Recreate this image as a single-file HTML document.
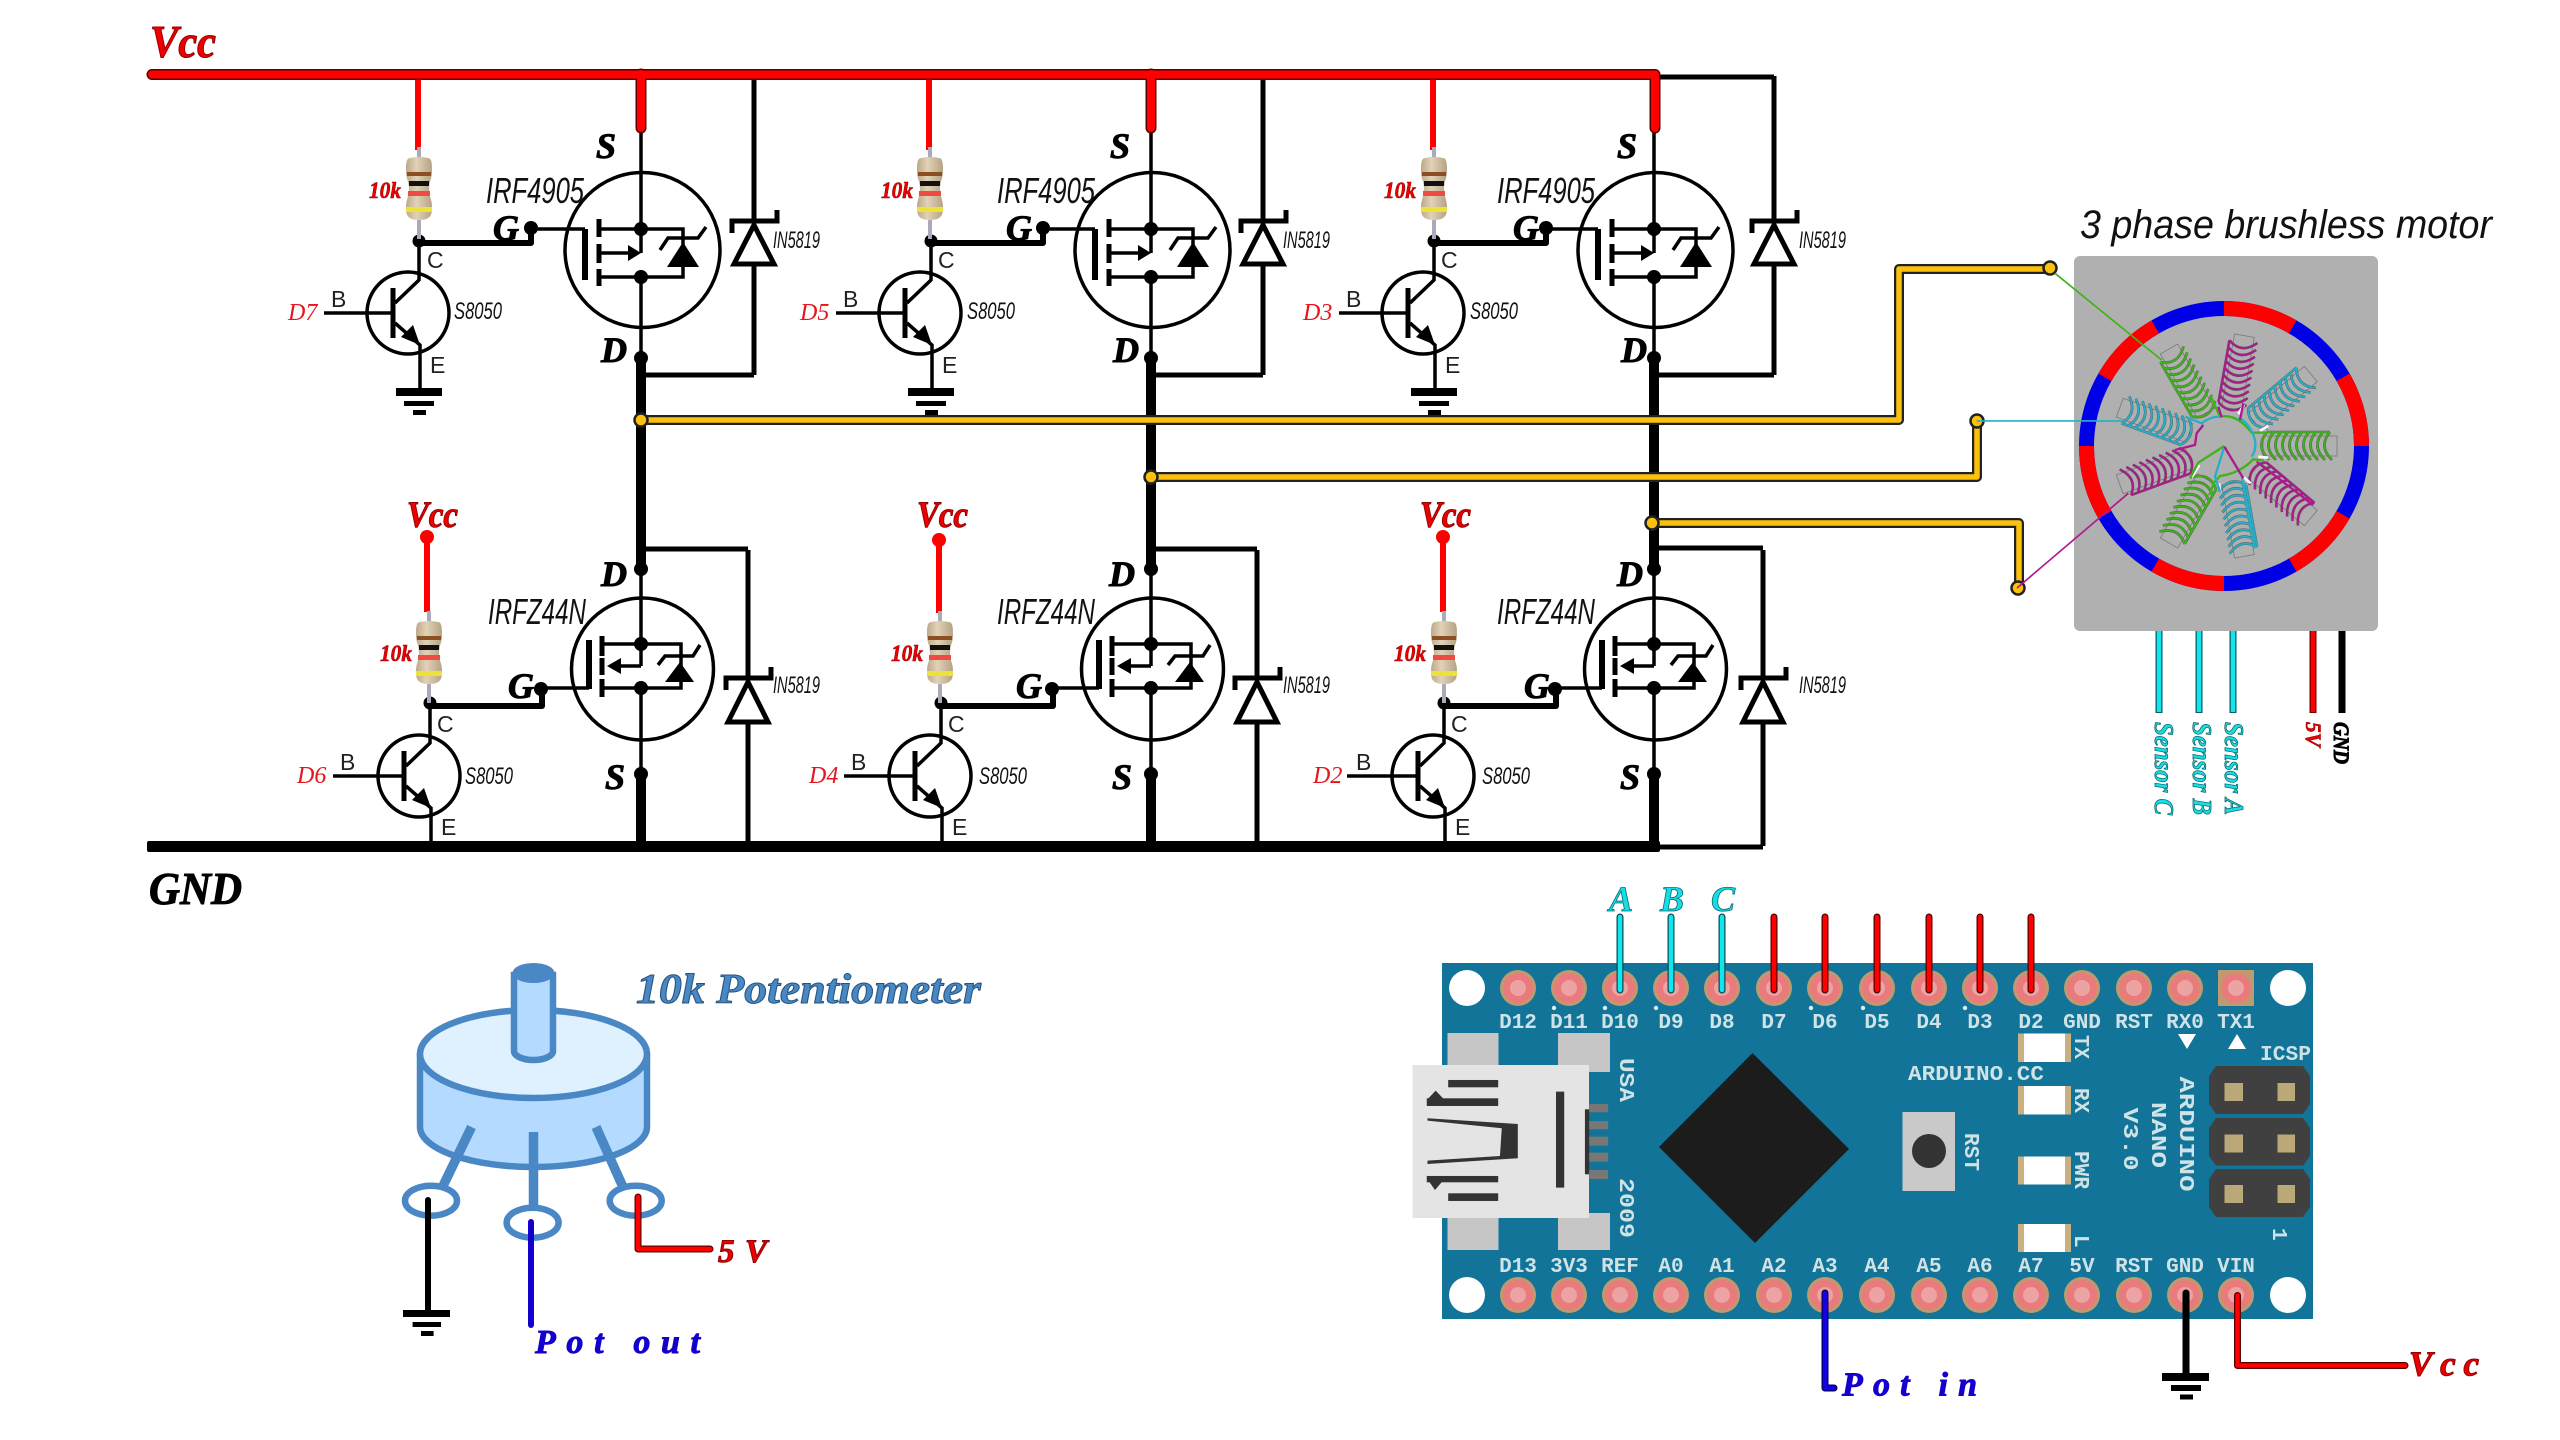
<!DOCTYPE html>
<html><head><meta charset="utf-8"><title>BLDC driver</title>
<style>
html,body{margin:0;padding:0;background:#fff}
svg{display:block}
.bi{font-family:"Liberation Serif",serif;font-style:italic;font-weight:bold}
.th{font-family:"Liberation Sans",sans-serif;font-style:italic;fill:#111}
.cb{font-family:"Liberation Sans",sans-serif;font-size:23px;fill:#222}
.m{font-family:"Liberation Mono",monospace;font-weight:bold;font-size:21px;fill:#cfe3e6;text-anchor:middle}
.mr{font-family:"Liberation Mono",monospace;font-weight:bold;font-size:21px;fill:#cfe3e6}
.r{fill:#e00;stroke:#900;stroke-width:1.1}
.r6{stroke-width:.6}
.dr{font-family:"Liberation Serif",serif;font-style:italic;font-size:24px;fill:#e8141c}
.k{fill:#000;stroke:#000;stroke-width:1}
.cy{fill:#14dfe8;stroke:#0a6a70;stroke-width:.8}
.bl{fill:#1400cc;stroke:#1400cc;stroke-width:.9}
</style></head><body>
<svg width="2560" height="1440" viewBox="0 0 2560 1440" xmlns="http://www.w3.org/2000/svg">
<defs>
<linearGradient id="bg" x1="0" x2="1" y1="0" y2="0"><stop offset="0" stop-color="#bda98a"/><stop offset=".4" stop-color="#e2d2b6"/><stop offset="1" stop-color="#b5a283"/></linearGradient>
<g id="res">
<path d="M0,-31V-42M0,31V50" stroke="#aab" stroke-width="4" fill="none"/>
<path d="M-9,-31C-13,-31 -13,-24 -13,-18C-13,-10 -10,-8 -10,0C-10,8 -13,10 -13,18C-13,24 -13,31 0,31C13,31 13,24 13,18C13,10 10,8 10,0C10,-8 13,-10 13,-18C13,-24 13,-31 9,-31Q0,-33 -9,-31Z" fill="url(#bg)"/>
<rect x="-12" y="-17" width="24" height="4" fill="#8a4f22"/>
<rect x="-10" y="-8" width="20" height="5" fill="#111"/>
<rect x="-11" y="2" width="22" height="5" fill="#ef4a44"/>
<rect x="-13" y="18" width="26" height="5" fill="#ece33a"/>
</g>
<g id="npnU" fill="none" stroke="#000">
<circle cx="-11" cy="72" r="41" stroke-width="3.5" fill="none"/>
<path d="M0,0V39L-24,62M-24,82L1,104V147" stroke-width="3.5"/>
<path d="M-26,47V97" stroke-width="5"/>
<path d="M0,2H112V-13" stroke-width="6" stroke-linejoin="round"/>
<circle cx="0" cy="0" r="6.5" fill="#000" stroke="none"/>
<circle cx="112" cy="-13" r="7" fill="#000" stroke="none"/>
<polygon points="1,104 -18,96 -6,84" fill="#000" stroke="none"/>
<path d="M-26,72H-95" stroke-width="3.5"/>
<rect x="-23" y="147" width="46" height="8" fill="#000" stroke="none"/>
<rect x="-15" y="160" width="30" height="5" fill="#000" stroke="none"/>
<rect x="-6" y="169" width="13" height="5" fill="#000" stroke="none"/>
</g>
<g id="npnL" fill="none" stroke="#000">
<circle cx="-11" cy="73" r="41" stroke-width="3.5" fill="none"/>
<path d="M0,0V40L-24,63M-24,83L1,105V143" stroke-width="3.5"/>
<path d="M-26,48V98" stroke-width="5"/>
<path d="M0,3H112V-14" stroke-width="6" stroke-linejoin="round"/>
<circle cx="0" cy="0" r="6.5" fill="#000" stroke="none"/>
<circle cx="111" cy="-14" r="7" fill="#000" stroke="none"/>
<polygon points="1,105 -18,97 -6,85" fill="#000" stroke="none"/>
<path d="M-26,73H-97" stroke-width="3.5"/>
</g>
<g id="pmos" fill="none" stroke="#000">
<circle cx="1.5" cy="250" r="77.5" stroke-width="3.5"/>
<path d="M0,132V253M0,277V358" stroke-width="3.5"/>
<path d="M-42,219V237M-42,244V263M-42,269V286" stroke-width="5"/>
<path d="M-42,229H42V277H-42M-42,253H-10" stroke-width="3.5"/>
<path d="M-56,229V280" stroke-width="6"/>
<path d="M-109,229H-56" stroke-width="3.5"/>
<path d="M19,250L27,238H57L65,227" stroke-width="3.5"/>
<g fill="#000" stroke="none">
<circle cx="0" cy="229" r="7"/><circle cx="0" cy="277" r="7"/><circle cx="0" cy="358" r="7"/>
<polygon points="-13,245 0,253 -13,261"/>
<polygon points="26,267 58,267 42,242"/>
</g>
</g>
<g id="nmos" fill="none" stroke="#000">
<circle cx="1.5" cy="669" r="71" stroke-width="3.5"/>
<path d="M0,569V644M0,666V644M0,688V774" stroke-width="3.5"/>
<path d="M-39,636V656M-39,658V675M-39,679V697" stroke-width="5"/>
<path d="M-39,644H40V688H-39M0,666H-22" stroke-width="3.5"/>
<path d="M-52,640V689" stroke-width="6"/>
<path d="M-99,688H-52" stroke-width="3.5"/>
<path d="M17,665L24,656H52L59,645" stroke-width="3.5"/>
<g fill="#000" stroke="none">
<circle cx="0" cy="569" r="7"/><circle cx="0" cy="644" r="7"/><circle cx="0" cy="688" r="7"/><circle cx="0" cy="774" r="7"/>
<polygon points="-34,666 -20,658 -20,674"/>
<polygon points="24,682 53,682 39,662"/>
</g>
</g>
<g id="du" fill="none" stroke="#000" stroke-width="5">
<path d="M0,76V223M0,264V375"/>
<polygon points="0,225 -20,264 20,264"/>
<path d="M-22,233V221H23V210"/>
</g>
<g id="dl" fill="none" stroke="#000" stroke-width="5">
<path d="M0,550V680M0,722V846"/>
<polygon points="0,682 -20,722 20,722"/>
<path d="M-22,690V678H23V667"/>
</g>
<g id="pin"><circle r="18" fill="#bf9a6e"/><circle r="15" fill="#ea7b7c"/><circle r="8" fill="#eba3a4"/></g>
<g id="coil" fill="none">
<rect x="-10" y="-112" width="20" height="74" stroke="#777" stroke-width=".8"/>
<path d="M-14,-42V-105M-14,-42Q0,-30 14,-44M-14,-49Q0,-37 14,-51M-14,-56Q0,-44 14,-58M-14,-63Q0,-51 14,-65M-14,-70Q0,-58 14,-72M-14,-77Q0,-65 14,-79M-14,-84Q0,-72 14,-86M-14,-91Q0,-79 14,-93M-14,-98Q0,-86 14,-100M-14,-105Q0,-93 14,-107" stroke="#555" stroke-width="2.6"/>
<path d="M-14,-42V-105M-14,-42Q0,-30 14,-44M-14,-49Q0,-37 14,-51M-14,-56Q0,-44 14,-58M-14,-63Q0,-51 14,-65M-14,-70Q0,-58 14,-72M-14,-77Q0,-65 14,-79M-14,-84Q0,-72 14,-86M-14,-91Q0,-79 14,-93M-14,-98Q0,-86 14,-100M-14,-105Q0,-93 14,-107" stroke="currentColor" stroke-width="1.8"/>
</g>
</defs>

<!-- thick stems -->
<g stroke="#000" stroke-width="10" fill="none">
<path d="M641,358V569M641,774V846M1151,358V569M1151,774V846M1654,358V569M1654,774V846"/>
</g>
<!-- GND rail -->
<rect x="147" y="841" width="1513" height="11" rx="2" fill="#000"/>
<path d="M1654,847H1763M641,375H754M1151,375H1263M1654,375H1774M641,549H748M1151,549H1257M1654,548H1763M1654,77H1774" stroke="#000" stroke-width="5" fill="none"/>

<use href="#du" x="754"/><use href="#du" x="1263"/><use href="#du" x="1774"/>
<use href="#dl" x="748"/><use href="#dl" x="1257"/><use href="#dl" x="1763"/>
<use href="#pmos" x="641"/><use href="#pmos" x="1151"/><use href="#pmos" x="1654"/>
<use href="#nmos" x="641"/><use href="#nmos" x="1151"/><use href="#nmos" x="1654"/>
<use href="#npnU" x="419" y="241"/><use href="#npnU" x="931" y="241"/><use href="#npnU" x="1434" y="241"/>
<use href="#npnL" x="430" y="703"/><use href="#npnL" x="941" y="703"/><use href="#npnL" x="1444" y="703"/>

<!-- resistors + red -->
<g stroke="#f00" stroke-width="6" fill="none">
<path d="M418,74V150M929,74V150M1433,74V150M427,537V612M939,540V613M1443,537V612"/>
</g>
<g fill="#f00"><circle cx="427" cy="537" r="7"/><circle cx="939" cy="540" r="7"/><circle cx="1443" cy="537" r="7"/></g>
<use href="#res" x="419" y="189"/><use href="#res" x="930" y="189"/><use href="#res" x="1434" y="189"/>
<use href="#res" x="429" y="653"/><use href="#res" x="940" y="653"/><use href="#res" x="1444" y="653"/>

<!-- Vcc rail -->
<path d="M152,74.5H1655V128M641,74V128M1151,74V128" fill="none" stroke="#5a0000" stroke-width="11" stroke-linejoin="round" stroke-linecap="round"/>
<path d="M152,74.5H1655V128M641,74V128M1151,74V128" fill="none" stroke="#f00" stroke-width="8" stroke-linejoin="round" stroke-linecap="round"/>

<!-- Yellow wires -->
<g fill="none" stroke-linejoin="round" stroke-linecap="round">
<path d="M641,420H1899V269H2050M1151,477H1977V421M1654,523H2019V588" stroke="#222" stroke-width="10"/>
<path d="M641,420H1899V269H2050M1151,477H1977V421M1654,523H2019V588" stroke="#fcc10c" stroke-width="5.5"/>
</g>
<g fill="#fcc10c" stroke="#222" stroke-width="2.5">
<circle cx="641" cy="420" r="6.5"/><circle cx="1151" cy="477" r="6.5"/><circle cx="1652" cy="523" r="6.5"/>
<circle cx="2050" cy="268" r="6.5"/><circle cx="1977" cy="421" r="6.5"/><circle cx="2018" cy="588" r="6.5"/>
</g>

<!-- Labels schematics -->
<text class="bi r" x="150" y="57" font-size="46" textLength="66" lengthAdjust="spacingAndGlyphs">Vcc</text>
<text class="bi k" x="149" y="904" font-size="46" textLength="93" lengthAdjust="spacingAndGlyphs">GND</text>
<g class="bi r" font-size="37">
<text x="407" y="527" textLength="51" lengthAdjust="spacingAndGlyphs">Vcc</text>
<text x="917" y="527" textLength="51" lengthAdjust="spacingAndGlyphs">Vcc</text>
<text x="1420" y="527" textLength="51" lengthAdjust="spacingAndGlyphs">Vcc</text>
</g>
<g class="bi r r6" font-size="23">
<text x="369" y="198" textLength="32" lengthAdjust="spacingAndGlyphs">10k</text>
<text x="881" y="198" textLength="32" lengthAdjust="spacingAndGlyphs">10k</text>
<text x="1384" y="198" textLength="32" lengthAdjust="spacingAndGlyphs">10k</text>
<text x="380" y="661" textLength="32" lengthAdjust="spacingAndGlyphs">10k</text>
<text x="891" y="661" textLength="32" lengthAdjust="spacingAndGlyphs">10k</text>
<text x="1394" y="661" textLength="32" lengthAdjust="spacingAndGlyphs">10k</text>
</g>
<g class="bi k" font-size="36">
<text x="596" y="158">S</text><text x="1110" y="158">S</text><text x="1617" y="158">S</text>
<text x="601" y="362">D</text><text x="1113" y="362">D</text><text x="1621" y="362">D</text>
<text x="493" y="240">G</text><text x="1006" y="240">G</text><text x="1513" y="240">G</text>
<text x="601" y="586">D</text><text x="1109" y="586">D</text><text x="1617" y="586">D</text>
<text x="605" y="789">S</text><text x="1112" y="789">S</text><text x="1620" y="789">S</text>
<text x="508" y="698">G</text><text x="1016" y="698">G</text><text x="1524" y="698">G</text>
</g>
<g class="th" font-size="36">
<text x="486" y="203" textLength="98" lengthAdjust="spacingAndGlyphs">IRF4905</text>
<text x="997" y="203" textLength="98" lengthAdjust="spacingAndGlyphs">IRF4905</text>
<text x="1497" y="203" textLength="98" lengthAdjust="spacingAndGlyphs">IRF4905</text>
<text x="488" y="624" textLength="98" lengthAdjust="spacingAndGlyphs">IRFZ44N</text>
<text x="997" y="624" textLength="98" lengthAdjust="spacingAndGlyphs">IRFZ44N</text>
<text x="1497" y="624" textLength="98" lengthAdjust="spacingAndGlyphs">IRFZ44N</text>
</g>
<g class="th" font-size="24">
<text x="454" y="319" textLength="48" lengthAdjust="spacingAndGlyphs">S8050</text>
<text x="967" y="319" textLength="48" lengthAdjust="spacingAndGlyphs">S8050</text>
<text x="1470" y="319" textLength="48" lengthAdjust="spacingAndGlyphs">S8050</text>
<text x="465" y="784" textLength="48" lengthAdjust="spacingAndGlyphs">S8050</text>
<text x="979" y="784" textLength="48" lengthAdjust="spacingAndGlyphs">S8050</text>
<text x="1482" y="784" textLength="48" lengthAdjust="spacingAndGlyphs">S8050</text>
<text x="773" y="248" textLength="47" lengthAdjust="spacingAndGlyphs">IN5819</text>
<text x="1283" y="248" textLength="47" lengthAdjust="spacingAndGlyphs">IN5819</text>
<text x="1799" y="248" textLength="47" lengthAdjust="spacingAndGlyphs">IN5819</text>
<text x="773" y="693" textLength="47" lengthAdjust="spacingAndGlyphs">IN5819</text>
<text x="1283" y="693" textLength="47" lengthAdjust="spacingAndGlyphs">IN5819</text>
<text x="1799" y="693" textLength="47" lengthAdjust="spacingAndGlyphs">IN5819</text>
</g>
<g class="cb">
<text x="331" y="307">B</text><text x="427" y="268">C</text><text x="430" y="373">E</text>
<text x="843" y="307">B</text><text x="938" y="268">C</text><text x="942" y="373">E</text>
<text x="1346" y="307">B</text><text x="1441" y="268">C</text><text x="1445" y="373">E</text>
<text x="340" y="770">B</text><text x="437" y="732">C</text><text x="441" y="835">E</text>
<text x="851" y="770">B</text><text x="948" y="732">C</text><text x="952" y="835">E</text>
<text x="1356" y="770">B</text><text x="1451" y="732">C</text><text x="1455" y="835">E</text>
</g>
<g class="dr">
<text x="288" y="320">D7</text><text x="800" y="320">D5</text><text x="1303" y="320">D3</text>
<text x="297" y="783">D6</text><text x="809" y="783">D4</text><text x="1313" y="783">D2</text>
</g>

<!-- Motor -->
<rect x="2074" y="256" width="304" height="375" rx="6" fill="#b0b0b0"/>
<text class="th" x="2080" y="238" font-size="40" textLength="412" lengthAdjust="spacingAndGlyphs">3 phase brushless motor</text>
<g fill="none" stroke-width="15" transform="translate(2224,446)">
<circle r="137.5" stroke="#0000e6"/>
<g stroke="#f00">
<path d="M0,-137.5A137.5,137.5 0 0 1 68.75,-119.08"/>
<path d="M119.08,-68.75A137.5,137.5 0 0 1 137.5,0"/>
<path d="M119.08,68.75A137.5,137.5 0 0 1 68.75,119.08"/>
<path d="M0,137.5A137.5,137.5 0 0 1 -68.75,119.08"/>
<path d="M-119.08,68.75A137.5,137.5 0 0 1 -137.5,0"/>
<path d="M-119.08,-68.75A137.5,137.5 0 0 1 -68.75,-119.08"/>
</g>
</g>
<g transform="translate(2225,446)">
<use href="#coil" transform="rotate(10)" color="#b0188f"/>
<use href="#coil" transform="rotate(50)" color="#27aec9"/>
<use href="#coil" transform="rotate(90)" color="#3fb31a"/>
<use href="#coil" transform="rotate(130)" color="#b0188f"/>
<use href="#coil" transform="rotate(170)" color="#27aec9"/>
<use href="#coil" transform="rotate(210)" color="#3fb31a"/>
<use href="#coil" transform="rotate(250)" color="#b0188f"/>
<use href="#coil" transform="rotate(290)" color="#27aec9"/>
<use href="#coil" transform="rotate(330)" color="#3fb31a"/>
</g>
<g transform="translate(2040,190) scale(.3333)" fill="none" stroke-width="7">
<path d="M595,672L612,645M660,722L685,708M655,800L685,803M612,862L632,880M455,862L478,825M537,880L540,905" stroke="#fff" stroke-width="8"/>
<g stroke="#3fb31a">
<path d="M515,625L540,680Q590,670 635,728H680"/>
<path d="M672,812L640,808Q600,850 540,858L520,880L510,915"/>
<path d="M553,768L475,818L450,865"/>
<path d="M365,510L45,250" stroke-width="5"/>
</g>
<g stroke="#27aec9">
<path d="M435,680L485,700Q510,680 540,680"/>
<path d="M595,685Q620,690 640,735Q655,770 635,800"/>
<path d="M553,770L525,860L540,905"/>
<path d="M605,855L645,1075"/>
<path d="M245,693H-190" stroke-width="5"/>
</g>
<g stroke="#b0188f">
<path d="M535,650L545,682"/>
<path d="M610,640L600,690"/>
<path d="M405,780L465,765L470,730L490,705"/>
<path d="M553,770L610,865"/>
<path d="M650,815L820,945"/>
<path d="M265,910L-69,1194" stroke-width="5"/>
</g>
</g>

<!-- sensor wires -->
<g fill="none">
<path d="M2159,631V713M2199,631V713M2233,631V713" stroke="#0a5a60" stroke-width="7"/>
<path d="M2159,631V712M2199,631V712M2233,631V712" stroke="#10e6ee" stroke-width="4.5"/>
<path d="M2313,631V713" stroke="#600" stroke-width="7"/>
<path d="M2313,631V712" stroke="#f00" stroke-width="4.5"/>
<path d="M2342,631V713" stroke="#000" stroke-width="7"/>
</g>
<g class="bi cy" font-size="27">
<text transform="translate(2155,722) rotate(90)" textLength="93" lengthAdjust="spacingAndGlyphs">Sensor C</text>
<text transform="translate(2193,722) rotate(90)" textLength="93" lengthAdjust="spacingAndGlyphs">Sensor B</text>
<text transform="translate(2225,722) rotate(90)" textLength="93" lengthAdjust="spacingAndGlyphs">Sensor A</text>
</g>
<text class="bi r r6" transform="translate(2306,722) rotate(90)" font-size="22" textLength="25" lengthAdjust="spacingAndGlyphs">5V</text>
<text class="bi k" transform="translate(2334,722) rotate(90)" font-size="22" textLength="42" lengthAdjust="spacingAndGlyphs">GND</text>

<!-- Potentiometer -->
<g stroke="#4a87c5" stroke-width="6.5">
<path d="M420,1054V1127A113.5,40 0 0 0 647,1127V1054Z" fill="#b5daff" stroke-linejoin="round"/>
<ellipse cx="533.5" cy="1054" rx="113.5" ry="44" fill="#dff0ff"/>
<path d="M514,975V1051A19.5,9 0 0 0 553,1051V975Z" fill="#b5daff"/>
<ellipse cx="533.5" cy="973" rx="21" ry="10" fill="#4a87c5" stroke="none"/>
<path d="M471.5,1127L442,1188M533.5,1132V1208M596,1127L623,1187" stroke-width="9.5" fill="none"/>
<ellipse cx="431" cy="1200.7" rx="26" ry="15" fill="none"/>
<ellipse cx="532.6" cy="1222.7" rx="26" ry="15" fill="none"/>
<ellipse cx="635.7" cy="1200.7" rx="26" ry="15" fill="none"/>
</g>
<path d="M428,1200V1310" stroke="#000" stroke-width="6" stroke-linecap="round"/>
<rect x="403" y="1310" width="47" height="7"/><rect x="412.6" y="1322" width="28.4" height="5"/><rect x="421" y="1331" width="12.6" height="5"/>
<path d="M531,1222V1325" stroke="#1400cc" stroke-width="6" stroke-linecap="round"/>
<path d="M638,1197V1249H710" stroke="#600" stroke-width="7" fill="none" stroke-linecap="round" stroke-linejoin="round"/>
<path d="M638,1197V1249H710" stroke="#f00" stroke-width="4.5" fill="none" stroke-linecap="round" stroke-linejoin="round"/>
<text class="bi" x="636" y="1003" font-size="42" fill="#4a87c5" stroke="#23557f" stroke-width="1" textLength="345" lengthAdjust="spacingAndGlyphs">10k Potentiometer</text>
<text class="bi r" x="718" y="1262" font-size="33" textLength="49" lengthAdjust="spacing">5 V</text>
<text class="bi bl" x="535" y="1353" font-size="34" textLength="165" lengthAdjust="spacing">Pot out</text>

<!-- Arduino -->
<rect x="1442" y="963" width="871" height="356" fill="#127499"/>
<circle cx="1467" cy="988" r="18" fill="#fff"/><circle cx="2288" cy="988" r="18" fill="#fff"/>
<circle cx="1467" cy="1295" r="18" fill="#fff"/><circle cx="2288" cy="1295" r="18" fill="#fff"/>
<rect x="2218" y="970" width="36" height="36" fill="#bf9a6e"/>
<use href="#pin" x="1518" y="988"/><use href="#pin" x="1569" y="988"/><use href="#pin" x="1620" y="988"/><use href="#pin" x="1671" y="988"/><use href="#pin" x="1722" y="988"/><use href="#pin" x="1774" y="988"/><use href="#pin" x="1825" y="988"/><use href="#pin" x="1877" y="988"/><use href="#pin" x="1929" y="988"/><use href="#pin" x="1980" y="988"/><use href="#pin" x="2031" y="988"/><use href="#pin" x="2082" y="988"/><use href="#pin" x="2134" y="988"/><use href="#pin" x="2185" y="988"/><use href="#pin" x="2236" y="988"/>
<use href="#pin" x="1518" y="1295"/><use href="#pin" x="1569" y="1295"/><use href="#pin" x="1620" y="1295"/><use href="#pin" x="1671" y="1295"/><use href="#pin" x="1722" y="1295"/><use href="#pin" x="1774" y="1295"/><use href="#pin" x="1825" y="1295"/><use href="#pin" x="1877" y="1295"/><use href="#pin" x="1929" y="1295"/><use href="#pin" x="1980" y="1295"/><use href="#pin" x="2031" y="1295"/><use href="#pin" x="2082" y="1295"/><use href="#pin" x="2134" y="1295"/><use href="#pin" x="2185" y="1295"/><use href="#pin" x="2236" y="1295"/>
<g class="m">
<text x="1518" y="1028">D12</text><text x="1569" y="1028">D11</text><text x="1620" y="1028">D10</text><text x="1671" y="1028">D9</text><text x="1722" y="1028">D8</text><text x="1774" y="1028">D7</text><text x="1825" y="1028">D6</text><text x="1877" y="1028">D5</text><text x="1929" y="1028">D4</text><text x="1980" y="1028">D3</text><text x="2031" y="1028">D2</text><text x="2082" y="1028">GND</text><text x="2134" y="1028">RST</text><text x="2185" y="1028">RX0</text><text x="2236" y="1028">TX1</text>
<text x="1518" y="1272">D13</text><text x="1569" y="1272">3V3</text><text x="1620" y="1272">REF</text><text x="1671" y="1272">A0</text><text x="1722" y="1272">A1</text><text x="1774" y="1272">A2</text><text x="1825" y="1272">A3</text><text x="1877" y="1272">A4</text><text x="1929" y="1272">A5</text><text x="1980" y="1272">A6</text><text x="2031" y="1272">A7</text><text x="2082" y="1272">5V</text><text x="2134" y="1272">RST</text><text x="2185" y="1272">GND</text><text x="2236" y="1272">VIN</text>
</g>
<g fill="#dfecee"><circle cx="1554" cy="1008" r="2.2"/><circle cx="1605" cy="1008" r="2.2"/><circle cx="1656" cy="1008" r="2.2"/><circle cx="1811" cy="1008" r="2.2"/><circle cx="1863" cy="1008" r="2.2"/><circle cx="1965" cy="1008" r="2.2"/></g>
<g fill="#c6c6c6"><rect x="1447.5" y="1033" width="51" height="34"/><rect x="1558" y="1033" width="52" height="39"/><rect x="1447.5" y="1216" width="51" height="34"/><rect x="1558" y="1213" width="52" height="37"/></g>
<rect x="1412.5" y="1065" width="176.5" height="153" fill="#e4e4e4"/>
<g transform="translate(1400,880) scale(.357,.3333)" fill="#333">
<rect x="135" y="600" width="140" height="22"/><rect x="75" y="655" width="200" height="23"/>
<path d="M75,660L100,632L125,660Z"/>
<path d="M77,715L330,732V835L77,852V842L280,828L285,745L77,722Z"/>
<rect x="75" y="888" width="200" height="19"/><path d="M75,895L98,930L122,900Z"/>
<rect x="135" y="940" width="140" height="23"/>
<rect x="437" y="635" width="23" height="288"/>
<rect x="518" y="688" width="12" height="195"/>
<g fill="#777"><rect x="530" y="672" width="53" height="25"/><rect x="530" y="723" width="53" height="25"/><rect x="530" y="770" width="53" height="27"/><rect x="530" y="818" width="53" height="27"/><rect x="530" y="870" width="53" height="27"/></g>
</g>
<polygon points="1752.5,1053 1849,1149 1755,1243 1659,1147" fill="#1c1c1c"/>
<text class="mr" transform="translate(1620,1058) rotate(90)" font-size="22" textLength="44" lengthAdjust="spacingAndGlyphs">USA</text>
<text class="mr" transform="translate(1620,1178) rotate(90)" font-size="22" textLength="60" lengthAdjust="spacingAndGlyphs">2009</text>
<rect x="1902.5" y="1112" width="52.5" height="79" fill="#c9c9c9"/>
<circle cx="1929" cy="1151" r="17" fill="#333"/>
<text class="mr" x="1908" y="1080" textLength="136" lengthAdjust="spacingAndGlyphs">ARDUINO.CC</text>
<text class="mr" transform="translate(1965,1133) rotate(90)" textLength="38" lengthAdjust="spacingAndGlyphs">RST</text>
<text class="mr" transform="translate(2075,1035) rotate(90)" textLength="24" lengthAdjust="spacingAndGlyphs">TX</text>
<text class="mr" transform="translate(2075,1088) rotate(90)" textLength="25" lengthAdjust="spacingAndGlyphs">RX</text>
<text class="mr" transform="translate(2075,1151) rotate(90)" textLength="38" lengthAdjust="spacingAndGlyphs">PWR</text>
<text class="mr" transform="translate(2075,1235) rotate(90)">L</text>
<text class="mr" transform="translate(2180,1076.5) rotate(90)" font-size="24" textLength="115" lengthAdjust="spacingAndGlyphs">ARDUINO</text>
<text class="mr" transform="translate(2152,1102) rotate(90)" font-size="24" textLength="66" lengthAdjust="spacingAndGlyphs">NANO</text>
<text class="mr" transform="translate(2124,1107.6) rotate(90)" font-size="24" textLength="63" lengthAdjust="spacingAndGlyphs">V3.0</text>
<g fill="#fff"><rect x="2018" y="1033.5" width="53" height="28.5"/><rect x="2018" y="1086" width="53" height="28.5"/><rect x="2018" y="1156.5" width="53" height="28"/><rect x="2018" y="1224" width="53" height="28"/></g>
<g fill="#c8b080"><rect x="2018" y="1033.5" width="6" height="28.5"/><rect x="2065" y="1033.5" width="6" height="28.5"/><rect x="2018" y="1086" width="6" height="28.5"/><rect x="2065" y="1086" width="6" height="28.5"/><rect x="2018" y="1156.5" width="6" height="28"/><rect x="2065" y="1156.5" width="6" height="28"/><rect x="2018" y="1224" width="6" height="28"/><rect x="2065" y="1224" width="6" height="28"/></g>
<polygon points="2178,1034 2196,1034 2187,1049" fill="#fff"/>
<polygon points="2228,1049 2246,1049 2237,1034" fill="#fff"/>
<text class="mr" x="2260" y="1060" textLength="51" lengthAdjust="spacingAndGlyphs">ICSP</text>
<g fill="#404040">
<polygon points="2216,1066 2303,1066 2310,1076 2310,1104 2303,1114 2216,1114 2209,1104 2209,1076"/>
<polygon points="2216,1118 2303,1118 2310,1128 2310,1156 2303,1165.5 2216,1165.5 2209,1156 2209,1128"/>
<polygon points="2216,1169 2303,1169 2310,1179 2310,1207 2303,1217 2216,1217 2209,1207 2209,1179"/>
</g>
<g fill="#bba878"><rect x="2224.5" y="1083" width="18.5" height="18"/><rect x="2277.5" y="1083" width="17.5" height="18"/><rect x="2224.5" y="1134.5" width="18.5" height="18"/><rect x="2277.5" y="1134.5" width="17.5" height="18"/><rect x="2224.5" y="1185" width="18.5" height="18"/><rect x="2277.5" y="1185" width="17.5" height="18"/></g>
<text class="mr" transform="translate(2273,1228) rotate(90)" font-size="28">1</text>

<!-- Arduino wires -->
<g fill="none" stroke-linecap="round" stroke-linejoin="round">
<path d="M1620,917V990M1671,917V990M1722,917V990" stroke="#0a4a50" stroke-width="7"/>
<path d="M1620,917V990M1671,917V990M1722,917V990" stroke="#10e6ee" stroke-width="4.5"/>
<path d="M1774,917V990M1825,917V990M1877,917V990M1929,917V990M1980,917V990M2031,917V990" stroke="#500" stroke-width="7"/>
<path d="M1774,917V990M1825,917V990M1877,917V990M1929,917V990M1980,917V990M2031,917V990" stroke="#f00" stroke-width="4.5"/>
<path d="M1825,1293V1388H1834" stroke="#000066" stroke-width="7"/>
<path d="M1825,1293V1388H1834" stroke="#1400e0" stroke-width="4.5"/>
<path d="M2186,1293V1373" stroke="#000" stroke-width="7"/>
<path d="M2237.5,1295.5V1365.5H2405" stroke="#500" stroke-width="7"/>
<path d="M2237.5,1295.5V1365.5H2405" stroke="#f00" stroke-width="4.5"/>
</g>
<rect x="2162" y="1373" width="47" height="8"/><rect x="2171" y="1385" width="30" height="6"/><rect x="2180" y="1394.5" width="13" height="5"/>
<g class="bi cy" font-size="36" text-anchor="middle">
<text x="1621" y="911">A</text><text x="1672" y="911">B</text><text x="1723" y="911">C</text>
</g>
<text class="bi bl" x="1842" y="1395.5" font-size="34" textLength="135" lengthAdjust="spacing">Pot in</text>
<text class="bi r" x="2409" y="1375.5" font-size="35" textLength="70" lengthAdjust="spacing">Vcc</text>
</svg>
</body></html>
